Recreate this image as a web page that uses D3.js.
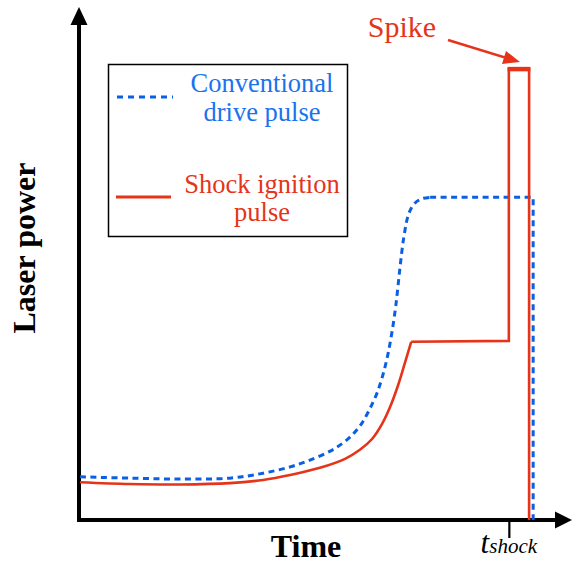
<!DOCTYPE html>
<html><head><meta charset="utf-8">
<script src="https://cdn.jsdelivr.net/npm/d3@7"></script>
<style>
html,body{margin:0;padding:0;background:#fff;}
svg{display:block;}
</style>
</head><body>
<svg id="c" width="572" height="563"></svg>
<script>
// ---- data (time, power in arbitrary units) ----
const blueTime  = [0, 11.1, 22.2, 33.3, 40.7, 46.7, 51.1, 55.6, 58.4, 60.7, 62.7, 64.4, 66.0, 67.3, 68.4, 69.3, 70.2, 71.1, 72.0, 73.1, 74.4, 76.0, 77.8];
const bluePower = [9.6, 9.3, 9.1, 9.3, 10.4, 11.8, 13.3, 15.3, 17.1, 19.1, 21.6, 24.7, 28.2, 32.2, 36.7, 41.6, 47.8, 56.0, 63.1, 68.2, 70.4, 71.4, 71.7];
const blueStepTime  = [77.8, 100.7, 100.7];
const blueStepPower = [71.7, 71.7, 0];

const redTime  = [0, 11.1, 22.2, 33.3, 40.7, 46.7, 53.3, 58.9, 62.2, 64.9, 67.1, 68.9, 70.7, 72.2, 73.6];
const redPower = [8.4, 8.0, 7.9, 8.2, 8.9, 10.0, 11.6, 13.6, 15.6, 18.0, 21.3, 25.1, 30.0, 34.9, 39.6];
const redStepTime  = [73.6, 95.3, 95.3, 99.8, 99.8];
const redStepPower = [39.6, 39.8, 100.2, 100.2, 0];

const tickValues = [95.3];
const tickLabelMain = "t";
const tickLabelSub = "shock";
const xLabel = "Time";
const yLabel = "Laser power";
const legendLabels = [["Conventional", "drive pulse"], ["Shock ignition", "pulse"]];
const annotation = "Spike";

// ---- styles ----
const BLUE = "#0b5fe3", BLUE_TXT = "#1a72ee", RED = "#e5341a";
const serif = "'Liberation Serif','Times New Roman',serif";

const svg = d3.select("#c");
const x = d3.scaleLinear().domain([0, 100]).range([80, 530]);
const y = d3.scaleLinear().domain([0, 100]).range([520, 70]);

const zip = (a, b) => a.map((v, i) => [v, b[i]]);
const smooth = d3.line().x(d => x(d[0])).y(d => y(d[1])).curve(d3.curveCatmullRom.alpha(0.5));
const straight = d3.line().x(d => x(d[0])).y(d => y(d[1]));

// ---- axes ----
const y0 = y(0), x0 = 79;
svg.append("line").attr("x1", x0).attr("y1", y0 + 2).attr("x2", x0).attr("y2", 20)
  .attr("stroke", "#000").attr("stroke-width", 4);
svg.append("path").attr("d", `M${x0},7 L${x0 - 8.5},25 L${x0 + 8.5},25 Z`).attr("fill", "#000");
svg.append("line").attr("x1", x0 - 2).attr("y1", y0).attr("x2", 558).attr("y2", y0)
  .attr("stroke", "#000").attr("stroke-width", 4);
svg.append("path").attr("d", `M572,${y0} L555,${y0 - 8.5} L555,${y0 + 8.5} Z`).attr("fill", "#000");

const xAxis = d3.axisBottom(x).tickValues(tickValues).tickSize(18).tickSizeOuter(0).tickFormat("");
const gx = svg.append("g").attr("transform", `translate(0,${y0})`).call(xAxis);
gx.select(".domain").remove();
gx.selectAll(".tick line").attr("stroke", "#000").attr("stroke-width", 2.2);
const tlab = svg.append("text").attr("x", x(tickValues[0])).attr("y", 553)
  .attr("text-anchor", "middle").attr("font-family", serif).attr("font-style", "italic");
tlab.append("tspan").attr("font-size", 31).text(tickLabelMain);
tlab.append("tspan").attr("font-size", 21).text(tickLabelSub);

svg.append("text").attr("x", 306).attr("y", 557).attr("text-anchor", "middle")
  .attr("font-family", serif).attr("font-weight", "bold").attr("font-size", 32).text(xLabel);
svg.append("text").attr("transform", "translate(35,248) rotate(-90)").attr("text-anchor", "middle")
  .attr("font-family", serif).attr("font-weight", "bold").attr("font-size", 32).text(yLabel);

// ---- series ----
const dash = "6,4.5";
svg.append("path").attr("d", smooth(zip(blueTime, bluePower))).attr("fill", "none")
  .attr("stroke", BLUE).attr("stroke-width", 3).attr("stroke-dasharray", dash);
svg.append("path").attr("d", straight(zip(blueStepTime, blueStepPower))).attr("fill", "none")
  .attr("stroke", BLUE).attr("stroke-width", 3).attr("stroke-dasharray", dash);
svg.append("path").attr("d", smooth(zip(redTime, redPower))).attr("fill", "none")
  .attr("stroke", RED).attr("stroke-width", 2.6);
svg.append("path").attr("d", straight(zip(redStepTime, redStepPower))).attr("fill", "none")
  .attr("stroke", RED).attr("stroke-width", 2.6).attr("stroke-linejoin", "miter");
// thicker spike top
svg.append("line").attr("x1", x(redStepTime[2]) - 1.3).attr("x2", x(redStepTime[3]) + 1.3)
  .attr("y1", y(redStepPower[2])).attr("y2", y(redStepPower[2]))
  .attr("stroke", RED).attr("stroke-width", 4.5);

// ---- legend ----
svg.append("rect").attr("x", 108.5).attr("y", 64.5).attr("width", 239).attr("height", 172)
  .attr("fill", "#fff").attr("stroke", "#000").attr("stroke-width", 1.5);
svg.append("line").attr("x1", 117).attr("x2", 173).attr("y1", 97).attr("y2", 97)
  .attr("stroke", BLUE).attr("stroke-width", 3).attr("stroke-dasharray", "6,5");
svg.append("line").attr("x1", 116).attr("x2", 171).attr("y1", 197).attr("y2", 197)
  .attr("stroke", RED).attr("stroke-width", 3);
const lt = [[BLUE_TXT, 92, 121], [RED, 193, 221]];
legendLabels.forEach((lines, i) => {
  lines.forEach((s, j) => {
    svg.append("text").attr("x", 262).attr("y", lt[i][1 + j]).attr("text-anchor", "middle")
      .attr("font-family", serif).attr("font-size", 26.5).attr("fill", lt[i][0]).text(s);
  });
});

// ---- annotation ----
svg.append("text").attr("x", 402).attr("y", 37).attr("text-anchor", "middle")
  .attr("font-family", serif).attr("font-size", 30).attr("fill", RED).text(annotation);
svg.append("line").attr("x1", 448).attr("y1", 40).attr("x2", 510).attr("y2", 59)
  .attr("stroke", RED).attr("stroke-width", 2.5);
svg.append("path").attr("d", "M520,62 L506,51 L502,64 Z").attr("fill", RED);
</script>
</body></html>
